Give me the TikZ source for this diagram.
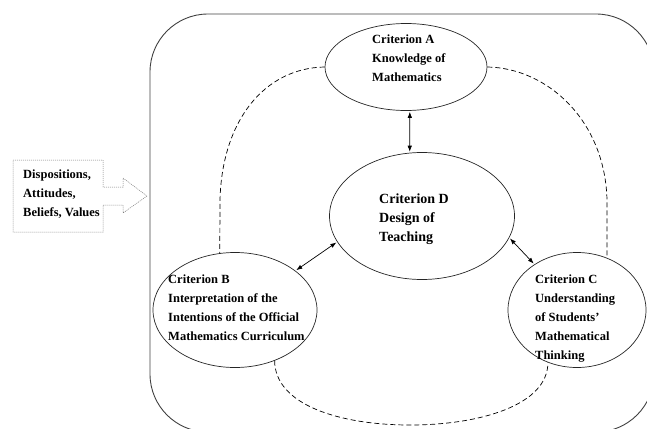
\documentclass[tikz,border=0pt]{standalone}
\usepackage{fontspec}
\setmainfont{Liberation Serif}
\usetikzlibrary{shapes.geometric,arrows.meta}
\begin{document}
\begin{tikzpicture}[x=1pt,y=-1pt,
  crit/.style={draw=black!85,line width=0.7pt,ellipse,inner sep=0pt},
  lbl/.style={anchor=north west,inner sep=0pt,align=left,
    font=\fontsize{12.5}{19}\selectfont\bfseries},
  lblbig/.style={anchor=north west,inner sep=0pt,align=left,
    font=\fontsize{14}{19}\selectfont\bfseries},
  link/.style={line width=0.7pt,{Latex[length=6pt,width=4.5pt]}-{Latex[length=6pt,width=4.5pt]},shorten <=1pt,shorten >=1pt},
  dashlink/.style={line width=0.7pt,dash pattern=on 5pt off 3pt}]
\useasboundingbox (0,0) rectangle (647,428);
% outer frame
\draw[black!75,line width=0.9pt,rounded corners=58pt] (150,14) rectangle (654,432);
% input arrow
\draw[black!55,line width=0.5pt,dash pattern=on 1pt off 1pt]
  (13,160) -- (103,160) -- (103,187) -- (123,187) -- (123,178) -- (147,196)
  -- (123,213) -- (123,205) -- (103,205) -- (103,232) -- (13,232) -- cycle;
\node[lbl] (disp) at (23,169.4) {Dispositions,\\Attitudes,\\Beliefs, Values};
% ellipses
\node[crit,minimum width=162pt,minimum height=87pt] (A) at (406,67) {};
\node[crit,minimum width=185pt,minimum height=127pt] (D) at (422,216) {};
\node[crit,minimum width=164pt,minimum height=115pt] (B) at (235,310) {};
\node[crit,minimum width=138pt,minimum height=115pt] (C) at (577,310) {};
% texts
\node[lbl] (At) at (372,34.4) {Criterion A\\Knowledge of\\Mathematics};
\node[lblbig] (Dt) at (379,193.5) {Criterion D\\Design of\\Teaching};
\node[lbl] (Bt) at (168,274.4) {Criterion B\\Interpretation of the\\Intentions of the Official\\Mathematics Curriculum};
\node[lbl] (Ct) at (535,274.4) {Criterion C\\Understanding\\of Students'\\Mathematical\\Thinking};
% arrows
\draw[link] (A.-85) -- (D.101);
\draw[link] (B.33) -- (D.197);
\draw[link] (C.133) -- (D.-14);
% dashed connections
\draw[dashlink] (A.west) .. controls (265,68) and (222,120) .. (220,200) -- (B.105);
\draw[dashlink] (A.east) .. controls (547,68) and (605,120) .. (607,200) -- (C.60);
\draw[dashlink] (B.-52) .. controls (275,405) and (340,425) .. (410,425)
  .. controls (480,425) and (548,405) .. (C.-119);
\end{tikzpicture}
\end{document}
